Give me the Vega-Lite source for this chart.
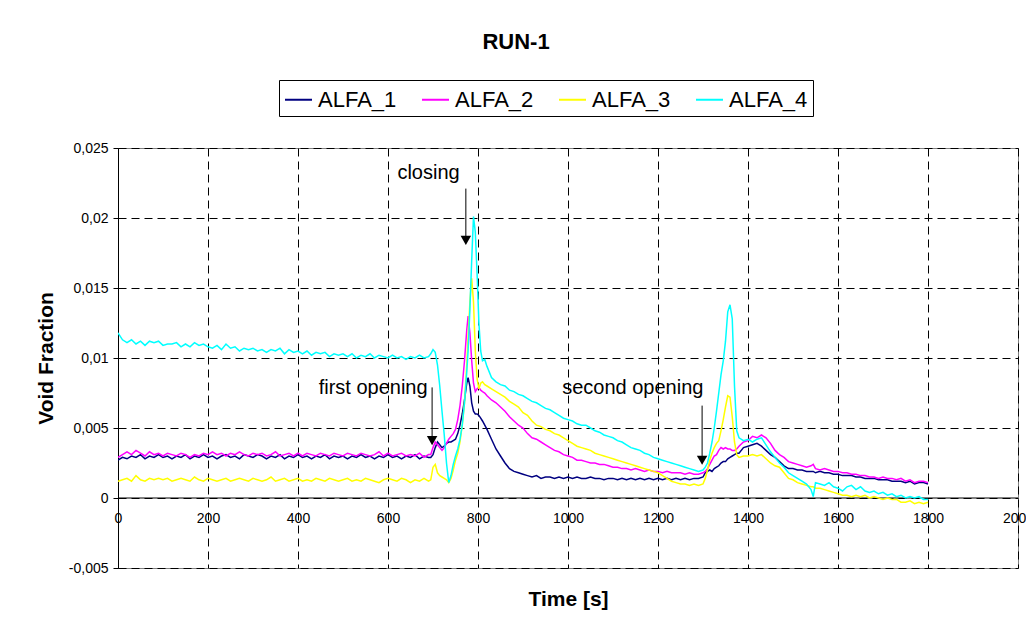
{
  "$schema": "https://vega.github.io/schema/vega-lite/v6.json",
  "width": 900,
  "height": 420,
  "autosize": {"type": "none"},
  "padding": {"left": 118, "top": 148, "right": 8, "bottom": 64},
  "background": "white",
  "title": {"text": "RUN-1", "fontSize": 22, "fontWeight": "bold", "font": "Liberation Sans", "color": "#000", "anchor": "middle", "frame": "group", "dx": -52, "offset": 9, "baseline": "alphabetic"},
  "config": {
    "font": "Liberation Sans",
    "view": {"stroke": "#808080", "strokeWidth": 1},
    "axis": {"gridColor": "#000", "gridDash": [8, 5], "gridOpacity": 1, "gridWidth": 1, "labelColor": "#000", "titleColor": "#000", "domainColor": "#000", "tickColor": "#000", "labelFont": "Liberation Sans", "titleFont": "Liberation Sans"},
    "legend": {"orient": "none", "legendX": 161, "legendY": -68, "direction": "horizontal", "symbolType": "stroke", "symbolSize": 729, "symbolStrokeWidth": 2, "labelFontSize": 22, "labelFont": "Liberation Sans", "labelColor": "#000", "labelOffset": 5, "columnPadding": 21, "padding": 5, "strokeColor": "#000", "strokeWidth": 1, "fillColor": "white", "title": null}
  },
  "datasets": {
    "series": [
      {"t":0,"ALFA_1":0.0027,"ALFA_2":0.0029,"ALFA_3":0.0012,"ALFA_4":0.0118},
      {"t":10,"ALFA_1":0.0029,"ALFA_2":0.0031,"ALFA_3":0.0013,"ALFA_4":0.0113},
      {"t":20,"ALFA_1":0.0028,"ALFA_2":0.0033,"ALFA_3":0.0014,"ALFA_4":0.0111},
      {"t":30,"ALFA_1":0.0030,"ALFA_2":0.0031,"ALFA_3":0.0012,"ALFA_4":0.0113},
      {"t":40,"ALFA_1":0.0029,"ALFA_2":0.0034,"ALFA_3":0.0016,"ALFA_4":0.0110},
      {"t":50,"ALFA_1":0.0031,"ALFA_2":0.0032,"ALFA_3":0.0013,"ALFA_4":0.0112},
      {"t":60,"ALFA_1":0.0028,"ALFA_2":0.0030,"ALFA_3":0.0012,"ALFA_4":0.0109},
      {"t":70,"ALFA_1":0.0030,"ALFA_2":0.0033,"ALFA_3":0.0014,"ALFA_4":0.0112},
      {"t":80,"ALFA_1":0.0029,"ALFA_2":0.0031,"ALFA_3":0.0013,"ALFA_4":0.0111},
      {"t":90,"ALFA_1":0.0031,"ALFA_2":0.0032,"ALFA_3":0.0014,"ALFA_4":0.0112},
      {"t":100,"ALFA_1":0.0029,"ALFA_2":0.0030,"ALFA_3":0.0013,"ALFA_4":0.0109},
      {"t":110,"ALFA_1":0.0030,"ALFA_2":0.0032,"ALFA_3":0.0014,"ALFA_4":0.0110},
      {"t":120,"ALFA_1":0.0028,"ALFA_2":0.0031,"ALFA_3":0.0012,"ALFA_4":0.0110},
      {"t":130,"ALFA_1":0.0030,"ALFA_2":0.0030,"ALFA_3":0.0013,"ALFA_4":0.0111},
      {"t":140,"ALFA_1":0.0029,"ALFA_2":0.0032,"ALFA_3":0.0014,"ALFA_4":0.0108},
      {"t":150,"ALFA_1":0.0031,"ALFA_2":0.0031,"ALFA_3":0.0013,"ALFA_4":0.0110},
      {"t":160,"ALFA_1":0.0028,"ALFA_2":0.0029,"ALFA_3":0.0012,"ALFA_4":0.0108},
      {"t":170,"ALFA_1":0.0030,"ALFA_2":0.0031,"ALFA_3":0.0015,"ALFA_4":0.0111},
      {"t":180,"ALFA_1":0.0029,"ALFA_2":0.0030,"ALFA_3":0.0013,"ALFA_4":0.0109},
      {"t":190,"ALFA_1":0.0031,"ALFA_2":0.0032,"ALFA_3":0.0012,"ALFA_4":0.0110},
      {"t":200,"ALFA_1":0.0029,"ALFA_2":0.0031,"ALFA_3":0.0014,"ALFA_4":0.0108},
      {"t":210,"ALFA_1":0.0030,"ALFA_2":0.0033,"ALFA_3":0.0013,"ALFA_4":0.0107},
      {"t":220,"ALFA_1":0.0028,"ALFA_2":0.0031,"ALFA_3":0.0012,"ALFA_4":0.0109},
      {"t":230,"ALFA_1":0.0030,"ALFA_2":0.0032,"ALFA_3":0.0013,"ALFA_4":0.0106},
      {"t":240,"ALFA_1":0.0031,"ALFA_2":0.0030,"ALFA_3":0.0014,"ALFA_4":0.0110},
      {"t":250,"ALFA_1":0.0029,"ALFA_2":0.0032,"ALFA_3":0.0012,"ALFA_4":0.0107},
      {"t":260,"ALFA_1":0.0030,"ALFA_2":0.0031,"ALFA_3":0.0013,"ALFA_4":0.0108},
      {"t":270,"ALFA_1":0.0028,"ALFA_2":0.0033,"ALFA_3":0.0014,"ALFA_4":0.0105},
      {"t":280,"ALFA_1":0.0031,"ALFA_2":0.0031,"ALFA_3":0.0013,"ALFA_4":0.0107},
      {"t":290,"ALFA_1":0.0030,"ALFA_2":0.0030,"ALFA_3":0.0012,"ALFA_4":0.0106},
      {"t":300,"ALFA_1":0.0029,"ALFA_2":0.0032,"ALFA_3":0.0014,"ALFA_4":0.0107},
      {"t":310,"ALFA_1":0.0031,"ALFA_2":0.0031,"ALFA_3":0.0013,"ALFA_4":0.0105},
      {"t":320,"ALFA_1":0.0030,"ALFA_2":0.0032,"ALFA_3":0.0012,"ALFA_4":0.0106},
      {"t":330,"ALFA_1":0.0028,"ALFA_2":0.0030,"ALFA_3":0.0013,"ALFA_4":0.0104},
      {"t":340,"ALFA_1":0.0030,"ALFA_2":0.0031,"ALFA_3":0.0015,"ALFA_4":0.0106},
      {"t":350,"ALFA_1":0.0029,"ALFA_2":0.0033,"ALFA_3":0.0012,"ALFA_4":0.0105},
      {"t":360,"ALFA_1":0.0031,"ALFA_2":0.0030,"ALFA_3":0.0013,"ALFA_4":0.0107},
      {"t":370,"ALFA_1":0.0028,"ALFA_2":0.0031,"ALFA_3":0.0014,"ALFA_4":0.0103},
      {"t":380,"ALFA_1":0.0030,"ALFA_2":0.0032,"ALFA_3":0.0012,"ALFA_4":0.0106},
      {"t":390,"ALFA_1":0.0029,"ALFA_2":0.0030,"ALFA_3":0.0013,"ALFA_4":0.0104},
      {"t":400,"ALFA_1":0.0031,"ALFA_2":0.0032,"ALFA_3":0.0014,"ALFA_4":0.0105},
      {"t":410,"ALFA_1":0.0029,"ALFA_2":0.0030,"ALFA_3":0.0012,"ALFA_4":0.0103},
      {"t":420,"ALFA_1":0.0030,"ALFA_2":0.0032,"ALFA_3":0.0013,"ALFA_4":0.0105},
      {"t":430,"ALFA_1":0.0028,"ALFA_2":0.0031,"ALFA_3":0.0012,"ALFA_4":0.0102},
      {"t":440,"ALFA_1":0.0030,"ALFA_2":0.0030,"ALFA_3":0.0014,"ALFA_4":0.0104},
      {"t":450,"ALFA_1":0.0029,"ALFA_2":0.0032,"ALFA_3":0.0013,"ALFA_4":0.0103},
      {"t":460,"ALFA_1":0.0031,"ALFA_2":0.0031,"ALFA_3":0.0012,"ALFA_4":0.0104},
      {"t":470,"ALFA_1":0.0028,"ALFA_2":0.0030,"ALFA_3":0.0014,"ALFA_4":0.0101},
      {"t":480,"ALFA_1":0.0030,"ALFA_2":0.0032,"ALFA_3":0.0013,"ALFA_4":0.0103},
      {"t":490,"ALFA_1":0.0029,"ALFA_2":0.0031,"ALFA_3":0.0012,"ALFA_4":0.0102},
      {"t":500,"ALFA_1":0.0030,"ALFA_2":0.0030,"ALFA_3":0.0013,"ALFA_4":0.0103},
      {"t":510,"ALFA_1":0.0028,"ALFA_2":0.0032,"ALFA_3":0.0014,"ALFA_4":0.0101},
      {"t":520,"ALFA_1":0.0030,"ALFA_2":0.0031,"ALFA_3":0.0012,"ALFA_4":0.0103},
      {"t":530,"ALFA_1":0.0029,"ALFA_2":0.0030,"ALFA_3":0.0013,"ALFA_4":0.0100},
      {"t":540,"ALFA_1":0.0031,"ALFA_2":0.0032,"ALFA_3":0.0012,"ALFA_4":0.0102},
      {"t":550,"ALFA_1":0.0029,"ALFA_2":0.0031,"ALFA_3":0.0014,"ALFA_4":0.0101},
      {"t":560,"ALFA_1":0.0030,"ALFA_2":0.0030,"ALFA_3":0.0013,"ALFA_4":0.0103},
      {"t":570,"ALFA_1":0.0028,"ALFA_2":0.0031,"ALFA_3":0.0012,"ALFA_4":0.0100},
      {"t":580,"ALFA_1":0.0030,"ALFA_2":0.0033,"ALFA_3":0.0011,"ALFA_4":0.0102},
      {"t":590,"ALFA_1":0.0029,"ALFA_2":0.0030,"ALFA_3":0.0013,"ALFA_4":0.0101},
      {"t":600,"ALFA_1":0.0031,"ALFA_2":0.0032,"ALFA_3":0.0014,"ALFA_4":0.0100},
      {"t":610,"ALFA_1":0.0029,"ALFA_2":0.0030,"ALFA_3":0.0013,"ALFA_4":0.0102},
      {"t":620,"ALFA_1":0.0030,"ALFA_2":0.0031,"ALFA_3":0.0012,"ALFA_4":0.0100},
      {"t":630,"ALFA_1":0.0028,"ALFA_2":0.0032,"ALFA_3":0.0014,"ALFA_4":0.0101},
      {"t":640,"ALFA_1":0.0030,"ALFA_2":0.0030,"ALFA_3":0.0013,"ALFA_4":0.0099},
      {"t":650,"ALFA_1":0.0029,"ALFA_2":0.0031,"ALFA_3":0.0011,"ALFA_4":0.0101},
      {"t":660,"ALFA_1":0.0031,"ALFA_2":0.0030,"ALFA_3":0.0013,"ALFA_4":0.0100},
      {"t":670,"ALFA_1":0.0028,"ALFA_2":0.0032,"ALFA_3":0.0012,"ALFA_4":0.0102},
      {"t":680,"ALFA_1":0.0030,"ALFA_2":0.0029,"ALFA_3":0.0014,"ALFA_4":0.0100},
      {"t":690,"ALFA_1":0.0029,"ALFA_2":0.0031,"ALFA_3":0.0012,"ALFA_4":0.0101},
      {"t":695,"ALFA_1":0.0029,"ALFA_2":0.0031,"ALFA_3":0.0013,"ALFA_4":0.0103},
      {"t":700,"ALFA_1":0.0031,"ALFA_2":0.0036,"ALFA_3":0.0022,"ALFA_4":0.0106},
      {"t":705,"ALFA_1":0.0036,"ALFA_2":0.0040,"ALFA_3":0.0024,"ALFA_4":0.0104},
      {"t":710,"ALFA_1":0.0040,"ALFA_2":0.0038,"ALFA_3":0.0018,"ALFA_4":0.0095},
      {"t":715,"ALFA_1":0.0038,"ALFA_2":0.0036,"ALFA_3":0.0016,"ALFA_4":0.0080},
      {"t":720,"ALFA_1":0.0036,"ALFA_2":0.0034,"ALFA_3":0.0015,"ALFA_4":0.0062},
      {"t":725,"ALFA_1":0.0037,"ALFA_2":0.0036,"ALFA_3":0.0014,"ALFA_4":0.0045},
      {"t":730,"ALFA_1":0.0039,"ALFA_2":0.0039,"ALFA_3":0.0013,"ALFA_4":0.0025},
      {"t":735,"ALFA_1":0.0040,"ALFA_2":0.0042,"ALFA_3":0.0011,"ALFA_4":0.0011},
      {"t":740,"ALFA_1":0.0040,"ALFA_2":0.0044,"ALFA_3":0.0014,"ALFA_4":0.0016},
      {"t":745,"ALFA_1":0.0041,"ALFA_2":0.0046,"ALFA_3":0.0020,"ALFA_4":0.0024},
      {"t":750,"ALFA_1":0.0042,"ALFA_2":0.0049,"ALFA_3":0.0027,"ALFA_4":0.0030},
      {"t":755,"ALFA_1":0.0046,"ALFA_2":0.0056,"ALFA_3":0.0032,"ALFA_4":0.0035},
      {"t":760,"ALFA_1":0.0052,"ALFA_2":0.0066,"ALFA_3":0.0040,"ALFA_4":0.0042},
      {"t":765,"ALFA_1":0.0060,"ALFA_2":0.0080,"ALFA_3":0.0052,"ALFA_4":0.0052},
      {"t":770,"ALFA_1":0.0070,"ALFA_2":0.0098,"ALFA_3":0.0068,"ALFA_4":0.0068},
      {"t":775,"ALFA_1":0.0082,"ALFA_2":0.0120,"ALFA_3":0.0095,"ALFA_4":0.0090},
      {"t":778,"ALFA_1":0.0086,"ALFA_2":0.0130,"ALFA_3":0.0115,"ALFA_4":0.0105},
      {"t":782,"ALFA_1":0.0080,"ALFA_2":0.0118,"ALFA_3":0.0140,"ALFA_4":0.0135},
      {"t":786,"ALFA_1":0.0068,"ALFA_2":0.0098,"ALFA_3":0.0157,"ALFA_4":0.0170},
      {"t":790,"ALFA_1":0.0062,"ALFA_2":0.0082,"ALFA_3":0.0140,"ALFA_4":0.0201},
      {"t":794,"ALFA_1":0.0060,"ALFA_2":0.0076,"ALFA_3":0.0105,"ALFA_4":0.0190},
      {"t":798,"ALFA_1":0.0060,"ALFA_2":0.0078,"ALFA_3":0.0085,"ALFA_4":0.0160},
      {"t":802,"ALFA_1":0.0059,"ALFA_2":0.0079,"ALFA_3":0.0078,"ALFA_4":0.0125},
      {"t":806,"ALFA_1":0.0057,"ALFA_2":0.0077,"ALFA_3":0.0082,"ALFA_4":0.0105},
      {"t":810,"ALFA_1":0.0055,"ALFA_2":0.0076,"ALFA_3":0.0083,"ALFA_4":0.0098},
      {"t":815,"ALFA_1":0.0052,"ALFA_2":0.0075,"ALFA_3":0.0081,"ALFA_4":0.0099},
      {"t":820,"ALFA_1":0.0049,"ALFA_2":0.0073,"ALFA_3":0.0080,"ALFA_4":0.0094},
      {"t":830,"ALFA_1":0.0042,"ALFA_2":0.0070,"ALFA_3":0.0078,"ALFA_4":0.0086},
      {"t":840,"ALFA_1":0.0035,"ALFA_2":0.0068,"ALFA_3":0.0076,"ALFA_4":0.0083},
      {"t":850,"ALFA_1":0.0030,"ALFA_2":0.0065,"ALFA_3":0.0074,"ALFA_4":0.0081},
      {"t":860,"ALFA_1":0.0025,"ALFA_2":0.0062,"ALFA_3":0.0072,"ALFA_4":0.0080},
      {"t":870,"ALFA_1":0.0021,"ALFA_2":0.0058,"ALFA_3":0.0069,"ALFA_4":0.0077},
      {"t":880,"ALFA_1":0.0019,"ALFA_2":0.0055,"ALFA_3":0.0067,"ALFA_4":0.0076},
      {"t":890,"ALFA_1":0.0018,"ALFA_2":0.0052,"ALFA_3":0.0065,"ALFA_4":0.0074},
      {"t":900,"ALFA_1":0.0017,"ALFA_2":0.0050,"ALFA_3":0.0061,"ALFA_4":0.0073},
      {"t":910,"ALFA_1":0.0016,"ALFA_2":0.0046,"ALFA_3":0.0059,"ALFA_4":0.0071},
      {"t":920,"ALFA_1":0.0015,"ALFA_2":0.0043,"ALFA_3":0.0055,"ALFA_4":0.0069},
      {"t":930,"ALFA_1":0.0016,"ALFA_2":0.0042,"ALFA_3":0.0052,"ALFA_4":0.0068},
      {"t":940,"ALFA_1":0.0014,"ALFA_2":0.0040,"ALFA_3":0.0051,"ALFA_4":0.0066},
      {"t":950,"ALFA_1":0.0015,"ALFA_2":0.0038,"ALFA_3":0.0049,"ALFA_4":0.0064},
      {"t":960,"ALFA_1":0.0015,"ALFA_2":0.0036,"ALFA_3":0.0048,"ALFA_4":0.0063},
      {"t":970,"ALFA_1":0.0014,"ALFA_2":0.0034,"ALFA_3":0.0046,"ALFA_4":0.0061},
      {"t":980,"ALFA_1":0.0015,"ALFA_2":0.0033,"ALFA_3":0.0045,"ALFA_4":0.0059},
      {"t":990,"ALFA_1":0.0014,"ALFA_2":0.0031,"ALFA_3":0.0043,"ALFA_4":0.0057},
      {"t":1000,"ALFA_1":0.0015,"ALFA_2":0.0030,"ALFA_3":0.0041,"ALFA_4":0.0056},
      {"t":1010,"ALFA_1":0.0014,"ALFA_2":0.0029,"ALFA_3":0.0039,"ALFA_4":0.0055},
      {"t":1020,"ALFA_1":0.0015,"ALFA_2":0.0027,"ALFA_3":0.0037,"ALFA_4":0.0053},
      {"t":1030,"ALFA_1":0.0014,"ALFA_2":0.0027,"ALFA_3":0.0036,"ALFA_4":0.0052},
      {"t":1040,"ALFA_1":0.0014,"ALFA_2":0.0026,"ALFA_3":0.0035,"ALFA_4":0.0052},
      {"t":1050,"ALFA_1":0.0015,"ALFA_2":0.0025,"ALFA_3":0.0034,"ALFA_4":0.0050},
      {"t":1060,"ALFA_1":0.0014,"ALFA_2":0.0025,"ALFA_3":0.0032,"ALFA_4":0.0048},
      {"t":1070,"ALFA_1":0.0014,"ALFA_2":0.0024,"ALFA_3":0.0031,"ALFA_4":0.0047},
      {"t":1080,"ALFA_1":0.0013,"ALFA_2":0.0024,"ALFA_3":0.0030,"ALFA_4":0.0045},
      {"t":1090,"ALFA_1":0.0014,"ALFA_2":0.0023,"ALFA_3":0.0029,"ALFA_4":0.0044},
      {"t":1100,"ALFA_1":0.0014,"ALFA_2":0.0022,"ALFA_3":0.0028,"ALFA_4":0.0043},
      {"t":1110,"ALFA_1":0.0013,"ALFA_2":0.0022,"ALFA_3":0.0027,"ALFA_4":0.0041},
      {"t":1120,"ALFA_1":0.0014,"ALFA_2":0.0021,"ALFA_3":0.0026,"ALFA_4":0.0040},
      {"t":1130,"ALFA_1":0.0013,"ALFA_2":0.0021,"ALFA_3":0.0025,"ALFA_4":0.0038},
      {"t":1140,"ALFA_1":0.0014,"ALFA_2":0.0020,"ALFA_3":0.0024,"ALFA_4":0.0036},
      {"t":1150,"ALFA_1":0.0013,"ALFA_2":0.0021,"ALFA_3":0.0023,"ALFA_4":0.0035},
      {"t":1160,"ALFA_1":0.0014,"ALFA_2":0.0020,"ALFA_3":0.0022,"ALFA_4":0.0034},
      {"t":1170,"ALFA_1":0.0013,"ALFA_2":0.0019,"ALFA_3":0.0021,"ALFA_4":0.0032},
      {"t":1180,"ALFA_1":0.0014,"ALFA_2":0.0020,"ALFA_3":0.0020,"ALFA_4":0.0031},
      {"t":1190,"ALFA_1":0.0013,"ALFA_2":0.0019,"ALFA_3":0.0019,"ALFA_4":0.0029},
      {"t":1200,"ALFA_1":0.0014,"ALFA_2":0.0019,"ALFA_3":0.0018,"ALFA_4":0.0028},
      {"t":1210,"ALFA_1":0.0013,"ALFA_2":0.0018,"ALFA_3":0.0016,"ALFA_4":0.0027},
      {"t":1220,"ALFA_1":0.0014,"ALFA_2":0.0019,"ALFA_3":0.0014,"ALFA_4":0.0026},
      {"t":1230,"ALFA_1":0.0013,"ALFA_2":0.0018,"ALFA_3":0.0012,"ALFA_4":0.0025},
      {"t":1240,"ALFA_1":0.0014,"ALFA_2":0.0018,"ALFA_3":0.0011,"ALFA_4":0.0024},
      {"t":1250,"ALFA_1":0.0013,"ALFA_2":0.0018,"ALFA_3":0.0010,"ALFA_4":0.0023},
      {"t":1260,"ALFA_1":0.0014,"ALFA_2":0.0017,"ALFA_3":0.0010,"ALFA_4":0.0022},
      {"t":1270,"ALFA_1":0.0013,"ALFA_2":0.0018,"ALFA_3":0.0009,"ALFA_4":0.0021},
      {"t":1280,"ALFA_1":0.0014,"ALFA_2":0.0017,"ALFA_3":0.0010,"ALFA_4":0.0020},
      {"t":1290,"ALFA_1":0.0014,"ALFA_2":0.0017,"ALFA_3":0.0009,"ALFA_4":0.0019},
      {"t":1300,"ALFA_1":0.0015,"ALFA_2":0.0018,"ALFA_3":0.0010,"ALFA_4":0.0020},
      {"t":1305,"ALFA_1":0.0018,"ALFA_2":0.0019,"ALFA_3":0.0014,"ALFA_4":0.0022},
      {"t":1310,"ALFA_1":0.0019,"ALFA_2":0.0021,"ALFA_3":0.0020,"ALFA_4":0.0025},
      {"t":1315,"ALFA_1":0.0020,"ALFA_2":0.0024,"ALFA_3":0.0027,"ALFA_4":0.0032},
      {"t":1320,"ALFA_1":0.0019,"ALFA_2":0.0027,"ALFA_3":0.0032,"ALFA_4":0.0040},
      {"t":1325,"ALFA_1":0.0021,"ALFA_2":0.0030,"ALFA_3":0.0036,"ALFA_4":0.0050},
      {"t":1330,"ALFA_1":0.0022,"ALFA_2":0.0031,"ALFA_3":0.0039,"ALFA_4":0.0062},
      {"t":1335,"ALFA_1":0.0023,"ALFA_2":0.0034,"ALFA_3":0.0041,"ALFA_4":0.0075},
      {"t":1340,"ALFA_1":0.0025,"ALFA_2":0.0036,"ALFA_3":0.0048,"ALFA_4":0.0088},
      {"t":1345,"ALFA_1":0.0026,"ALFA_2":0.0035,"ALFA_3":0.0056,"ALFA_4":0.0098},
      {"t":1350,"ALFA_1":0.0026,"ALFA_2":0.0036,"ALFA_3":0.0065,"ALFA_4":0.0112},
      {"t":1355,"ALFA_1":0.0028,"ALFA_2":0.0035,"ALFA_3":0.0073,"ALFA_4":0.0133},
      {"t":1360,"ALFA_1":0.0029,"ALFA_2":0.0035,"ALFA_3":0.0072,"ALFA_4":0.0138},
      {"t":1365,"ALFA_1":0.0030,"ALFA_2":0.0034,"ALFA_3":0.0058,"ALFA_4":0.0128},
      {"t":1370,"ALFA_1":0.0031,"ALFA_2":0.0034,"ALFA_3":0.0040,"ALFA_4":0.0080},
      {"t":1375,"ALFA_1":0.0032,"ALFA_2":0.0035,"ALFA_3":0.0031,"ALFA_4":0.0048},
      {"t":1380,"ALFA_1":0.0032,"ALFA_2":0.0037,"ALFA_3":0.0029,"ALFA_4":0.0043},
      {"t":1390,"ALFA_1":0.0036,"ALFA_2":0.0040,"ALFA_3":0.0030,"ALFA_4":0.0041},
      {"t":1400,"ALFA_1":0.0037,"ALFA_2":0.0041,"ALFA_3":0.0030,"ALFA_4":0.0042},
      {"t":1410,"ALFA_1":0.0038,"ALFA_2":0.0044,"ALFA_3":0.0031,"ALFA_4":0.0040},
      {"t":1420,"ALFA_1":0.0039,"ALFA_2":0.0043,"ALFA_3":0.0030,"ALFA_4":0.0042},
      {"t":1430,"ALFA_1":0.0037,"ALFA_2":0.0045,"ALFA_3":0.0031,"ALFA_4":0.0043},
      {"t":1440,"ALFA_1":0.0034,"ALFA_2":0.0043,"ALFA_3":0.0028,"ALFA_4":0.0038},
      {"t":1450,"ALFA_1":0.0031,"ALFA_2":0.0039,"ALFA_3":0.0025,"ALFA_4":0.0033},
      {"t":1460,"ALFA_1":0.0029,"ALFA_2":0.0034,"ALFA_3":0.0023,"ALFA_4":0.0029},
      {"t":1470,"ALFA_1":0.0026,"ALFA_2":0.0031,"ALFA_3":0.0022,"ALFA_4":0.0025},
      {"t":1480,"ALFA_1":0.0023,"ALFA_2":0.0029,"ALFA_3":0.0018,"ALFA_4":0.0022},
      {"t":1490,"ALFA_1":0.0021,"ALFA_2":0.0026,"ALFA_3":0.0014,"ALFA_4":0.0018},
      {"t":1500,"ALFA_1":0.0021,"ALFA_2":0.0025,"ALFA_3":0.0013,"ALFA_4":0.0016},
      {"t":1510,"ALFA_1":0.0020,"ALFA_2":0.0024,"ALFA_3":0.0011,"ALFA_4":0.0014},
      {"t":1520,"ALFA_1":0.0020,"ALFA_2":0.0023,"ALFA_3":0.0010,"ALFA_4":0.0012},
      {"t":1530,"ALFA_1":0.0019,"ALFA_2":0.0022,"ALFA_3":0.0009,"ALFA_4":0.0010},
      {"t":1540,"ALFA_1":0.0019,"ALFA_2":0.0023,"ALFA_3":0.0008,"ALFA_4":0.0006},
      {"t":1545,"ALFA_1":0.0019,"ALFA_2":0.0024,"ALFA_3":0.0008,"ALFA_4":0.0001},
      {"t":1550,"ALFA_1":0.0018,"ALFA_2":0.0021,"ALFA_3":0.0007,"ALFA_4":0.0011},
      {"t":1560,"ALFA_1":0.0019,"ALFA_2":0.0020,"ALFA_3":0.0007,"ALFA_4":0.0010},
      {"t":1570,"ALFA_1":0.0018,"ALFA_2":0.0021,"ALFA_3":0.0006,"ALFA_4":0.0009},
      {"t":1580,"ALFA_1":0.0018,"ALFA_2":0.0020,"ALFA_3":0.0005,"ALFA_4":0.0011},
      {"t":1590,"ALFA_1":0.0017,"ALFA_2":0.0019,"ALFA_3":0.0004,"ALFA_4":0.0008},
      {"t":1600,"ALFA_1":0.0017,"ALFA_2":0.0019,"ALFA_3":0.0003,"ALFA_4":0.0007},
      {"t":1610,"ALFA_1":0.0016,"ALFA_2":0.0018,"ALFA_3":0.0002,"ALFA_4":0.0005},
      {"t":1620,"ALFA_1":0.0016,"ALFA_2":0.0018,"ALFA_3":0.0002,"ALFA_4":0.0008},
      {"t":1630,"ALFA_1":0.0016,"ALFA_2":0.0017,"ALFA_3":0.0001,"ALFA_4":0.0009},
      {"t":1640,"ALFA_1":0.0015,"ALFA_2":0.0017,"ALFA_3":0.0002,"ALFA_4":0.0006},
      {"t":1650,"ALFA_1":0.0015,"ALFA_2":0.0016,"ALFA_3":0.0001,"ALFA_4":0.0008},
      {"t":1660,"ALFA_1":0.0014,"ALFA_2":0.0016,"ALFA_3":0.0002,"ALFA_4":0.0005},
      {"t":1670,"ALFA_1":0.0014,"ALFA_2":0.0015,"ALFA_3":0.0000,"ALFA_4":0.0004},
      {"t":1680,"ALFA_1":0.0014,"ALFA_2":0.0015,"ALFA_3":0.0001,"ALFA_4":0.0005},
      {"t":1690,"ALFA_1":0.0013,"ALFA_2":0.0014,"ALFA_3":0.0000,"ALFA_4":0.0003},
      {"t":1700,"ALFA_1":0.0013,"ALFA_2":0.0015,"ALFA_3":-0.0001,"ALFA_4":0.0004},
      {"t":1710,"ALFA_1":0.0013,"ALFA_2":0.0014,"ALFA_3":0.0000,"ALFA_4":0.0002},
      {"t":1720,"ALFA_1":0.0012,"ALFA_2":0.0014,"ALFA_3":-0.0001,"ALFA_4":0.0003},
      {"t":1730,"ALFA_1":0.0012,"ALFA_2":0.0013,"ALFA_3":-0.0001,"ALFA_4":0.0001},
      {"t":1740,"ALFA_1":0.0012,"ALFA_2":0.0014,"ALFA_3":-0.0003,"ALFA_4":0.0002},
      {"t":1750,"ALFA_1":0.0011,"ALFA_2":0.0012,"ALFA_3":-0.0003,"ALFA_4":0.0000},
      {"t":1760,"ALFA_1":0.0012,"ALFA_2":0.0013,"ALFA_3":-0.0002,"ALFA_4":0.0001},
      {"t":1770,"ALFA_1":0.0010,"ALFA_2":0.0011,"ALFA_3":-0.0004,"ALFA_4":0.0000},
      {"t":1780,"ALFA_1":0.0011,"ALFA_2":0.0012,"ALFA_3":-0.0003,"ALFA_4":0.0001},
      {"t":1790,"ALFA_1":0.0011,"ALFA_2":0.0012,"ALFA_3":-0.0004,"ALFA_4":-0.0001},
      {"t":1800,"ALFA_1":0.0010,"ALFA_2":0.0011,"ALFA_3":-0.0003,"ALFA_4":-0.0001}
    ],
    "zero": [{"v": 0}],
    "arrows": [
      {"t": 773, "v": 0.0221, "v2": 0.0186},
      {"t": 698, "v": 0.0079, "v2": 0.0043},
      {"t": 1298, "v": 0.0066, "v2": 0.0029}
    ],
    "heads": [
      {"t": 773, "v": 0.0184},
      {"t": 698, "v": 0.0041},
      {"t": 1298, "v": 0.0027}
    ],
    "notes": [
      {"t": 690, "v": 0.0228, "label": "closing"},
      {"t": 567, "v": 0.0074, "label": "first opening"},
      {"t": 1144, "v": 0.0074, "label": "second opening"}
    ]
  },
  "layer": [
    {
      "data": {"name": "zero"},
      "mark": {"type": "rule", "color": "#000", "strokeWidth": 1},
      "encoding": {
        "y": {"field": "v", "type": "quantitative", "scale": {"domain": [-0.005, 0.025], "nice": false, "zero": false}}
      }
    },
    {
      "data": {"name": "series"},
      "transform": [{"fold": ["ALFA_1", "ALFA_2", "ALFA_3", "ALFA_4"], "as": ["series", "v"]}],
      "mark": {"type": "line", "strokeWidth": 1.5, "clip": true},
      "encoding": {
        "x": {"field": "t", "type": "quantitative", "scale": {"domain": [0, 2000], "nice": false, "zero": false},
          "axis": {"title": "Time [s]", "titleFontSize": 21, "titleFontWeight": "bold", "titlePadding": 20, "values": [0, 200, 400, 600, 800, 1000, 1200, 1400, 1600, 1800, 2000], "format": "d", "labelFontSize": 14, "labelPadding": -57, "ticks": false, "tickSize": 0, "domain": false, "grid": true, "labelFlush": false, "labelOverlap": false}},
        "y": {"field": "v", "type": "quantitative", "scale": {"domain": [-0.005, 0.025], "nice": false, "zero": false},
          "axis": {"title": "Void Fraction", "titleFontSize": 21, "titleFontWeight": "bold", "titlePadding": 12, "values": [-0.005, 0, 0.005, 0.01, 0.015, 0.02, 0.025], "labelExpr": "replace(toString(datum.value), '.', ',')", "labelFontSize": 14, "labelPadding": 5, "tickSize": 5, "domain": true, "grid": true, "labelFlush": false, "labelOverlap": false}},
        "color": {"field": "series", "type": "nominal", "scale": {"domain": ["ALFA_1", "ALFA_2", "ALFA_3", "ALFA_4"], "range": ["#000080", "#FF00FF", "#FFFF00", "#00FFFF"]}}
      }
    },
    {
      "data": {"name": "arrows"},
      "mark": {"type": "rule", "color": "#000", "strokeWidth": 1},
      "encoding": {
        "x": {"field": "t", "type": "quantitative"},
        "y": {"field": "v", "type": "quantitative"},
        "y2": {"field": "v2"}
      }
    },
    {
      "data": {"name": "heads"},
      "mark": {"type": "point", "shape": "triangle-down", "filled": true, "color": "#000", "size": 110, "opacity": 1},
      "encoding": {
        "x": {"field": "t", "type": "quantitative"},
        "y": {"field": "v", "type": "quantitative"}
      }
    },
    {
      "data": {"name": "notes"},
      "mark": {"type": "text", "fontSize": 20, "color": "#000", "align": "center", "baseline": "alphabetic", "font": "Liberation Sans"},
      "encoding": {
        "x": {"field": "t", "type": "quantitative"},
        "y": {"field": "v", "type": "quantitative"},
        "text": {"field": "label"}
      }
    }
  ]
}
